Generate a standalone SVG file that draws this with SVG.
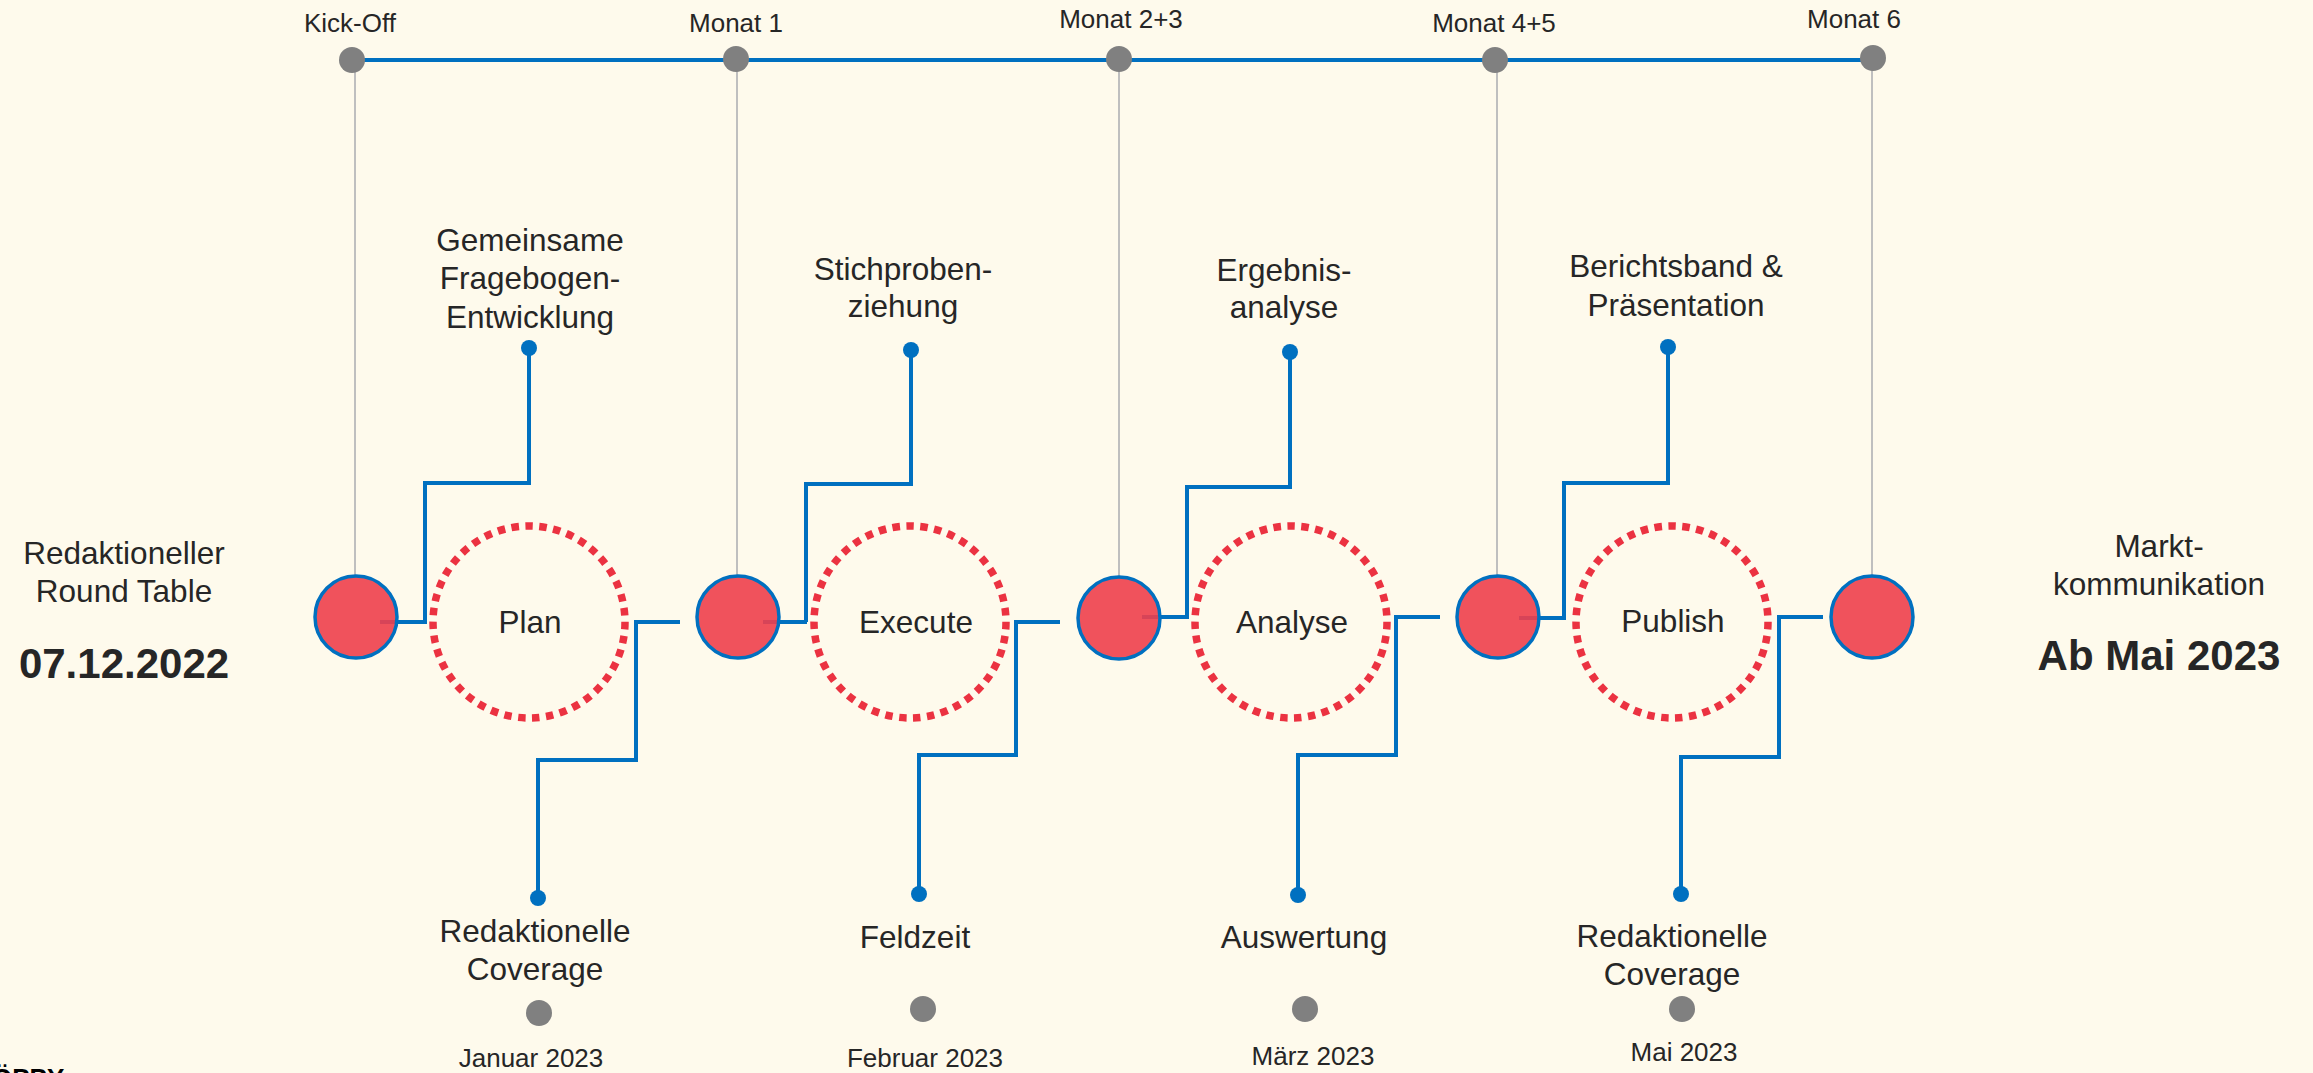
<svg xmlns="http://www.w3.org/2000/svg" width="2313" height="1073" viewBox="0 0 2313 1073">
<style>
text{font-family:"Liberation Sans",Arial,sans-serif;fill:#262626;text-anchor:middle}
.t26{font-size:26px}
.t31{font-size:31.5px}
.t25{font-size:26px}
.b42{font-size:42px;font-weight:bold}
.blue{fill:none;stroke:#0070C0;stroke-width:4}
.grey{fill:none;stroke:#BFBFBF;stroke-width:2}
.mdot{fill:#808080}
.bdot{fill:#0070C0}
.red{fill:#EE3F4C;fill-opacity:0.9;stroke:#0070C0;stroke-width:3.5}
.ring{fill:none;stroke:#EB3241;stroke-width:7.5;stroke-dasharray:7.5 6.5}
</style>
<rect width="2313" height="1073" fill="#FEFAEC"/>

<g id="connectors">
  <line class="blue" x1="351" y1="60" x2="1872" y2="60"/>
  <line class="grey" x1="355" y1="60" x2="355" y2="576"/>
  <line class="grey" x1="737" y1="60" x2="737" y2="576"/>
  <line class="grey" x1="1119" y1="60" x2="1119" y2="577"/>
  <line class="grey" x1="1497" y1="60" x2="1497" y2="576"/>
  <line class="grey" x1="1872" y1="60" x2="1872" y2="576"/>
  <path class="blue" d="M380 622H427M425 622V483H529V348"/>
  <path class="blue" d="M763 622H807M806 622V484H911V350"/>
  <path class="blue" d="M1142 617H1187M1187 619V487H1290V352"/>
  <path class="blue" d="M1519 618H1564V483H1668V347"/>
  <path class="blue" d="M680 622H636V760H538V898"/>
  <path class="blue" d="M1060 622H1016V755H919V894"/>
  <path class="blue" d="M1440 617H1396V755H1298V895"/>
  <path class="blue" d="M1823 617H1779V757H1681V894"/>
  <circle class="bdot" cx="529" cy="348" r="8"/>
  <circle class="bdot" cx="911" cy="350" r="8"/>
  <circle class="bdot" cx="1290" cy="352" r="8"/>
  <circle class="bdot" cx="1668" cy="347" r="8"/>
  <circle class="bdot" cx="538" cy="898" r="8"/>
  <circle class="bdot" cx="919" cy="894" r="8"/>
  <circle class="bdot" cx="1298" cy="895" r="8"/>
  <circle class="bdot" cx="1681" cy="894" r="8"/>
</g>

<g id="m-kickoff"><circle class="mdot" cx="352" cy="60" r="13"/><text class="t26" x="350" y="32">Kick-Off</text></g>
<g id="m-monat1"><circle class="mdot" cx="736" cy="59" r="13"/><text class="t26" x="736" y="32">Monat 1</text></g>
<g id="m-monat23"><circle class="mdot" cx="1119" cy="59" r="13"/><text class="t26" x="1121" y="28">Monat 2+3</text></g>
<g id="m-monat45"><circle class="mdot" cx="1495" cy="60" r="13"/><text class="t26" x="1494" y="32">Monat 4+5</text></g>
<g id="m-monat6"><circle class="mdot" cx="1873" cy="58" r="13"/><text class="t26" x="1854" y="28">Monat 6</text></g>

<g id="c1"><circle class="red" cx="356" cy="617" r="41"/></g>
<g id="c2"><circle class="red" cx="738" cy="617" r="41"/></g>
<g id="c3"><circle class="red" cx="1119" cy="618" r="41"/></g>
<g id="c4"><circle class="red" cx="1498" cy="617" r="41"/></g>
<g id="c5"><circle class="red" cx="1872" cy="617" r="41"/></g>

<g id="plan"><circle class="ring" cx="529" cy="622" r="96"/><text class="t31" x="530" y="633">Plan</text></g>
<g id="execute"><circle class="ring" cx="910" cy="622" r="96"/><text class="t31" x="916" y="633">Execute</text></g>
<g id="analyse"><circle class="ring" cx="1291" cy="622" r="96"/><text class="t31" x="1292" y="633">Analyse</text></g>
<g id="publish"><circle class="ring" cx="1672" cy="622" r="96"/><text class="t31" x="1673" y="632">Publish</text></g>

<g id="top1"><text class="t31" x="530"><tspan x="530" y="251">Gemeinsame</tspan><tspan x="530" y="289">Fragebogen-</tspan><tspan x="530" y="328">Entwicklung</tspan></text></g>
<g id="top2"><text class="t31" x="903"><tspan x="903" y="280">Stichproben-</tspan><tspan x="903" y="317">ziehung</tspan></text></g>
<g id="top3"><text class="t31" x="1284"><tspan x="1284" y="281">Ergebnis-</tspan><tspan x="1284" y="318">analyse</tspan></text></g>
<g id="top4"><text class="t31" x="1676"><tspan x="1676" y="277">Berichtsband &amp;</tspan><tspan x="1676" y="316">Präsentation</tspan></text></g>

<g id="bot1"><text class="t31" x="535"><tspan x="535" y="942">Redaktionelle</tspan><tspan x="535" y="980">Coverage</tspan></text><circle class="mdot" cx="539" cy="1013" r="13"/><text class="t25" x="531" y="1067">Januar 2023</text></g>
<g id="bot2"><text class="t31" x="915" y="948">Feldzeit</text><circle class="mdot" cx="923" cy="1009" r="13"/><text class="t25" x="925" y="1067">Februar 2023</text></g>
<g id="bot3"><text class="t31" x="1304" y="948">Auswertung</text><circle class="mdot" cx="1305" cy="1009" r="13"/><text class="t25" x="1313" y="1065">März 2023</text></g>
<g id="bot4"><text class="t31" x="1672"><tspan x="1672" y="947">Redaktionelle</tspan><tspan x="1672" y="985">Coverage</tspan></text><circle class="mdot" cx="1682" cy="1009" r="13"/><text class="t25" x="1684" y="1061">Mai 2023</text></g>

<g id="start"><text class="t31" x="124"><tspan x="124" y="564">Redaktioneller</tspan><tspan x="124" y="602">Round Table</tspan></text><text class="b42" x="124" y="678">07.12.2022</text></g>
<g id="end"><text class="t31" x="2159"><tspan x="2159" y="557">Markt-</tspan><tspan x="2159" y="595">kommunikation</tspan></text><text class="b42" x="2159" y="670">Ab Mai 2023</text></g>

<g id="footer"><text x="-8" y="1087" style="font-size:26px;font-weight:bold;fill:#000;text-anchor:start">ÖPPY</text></g>
</svg>
